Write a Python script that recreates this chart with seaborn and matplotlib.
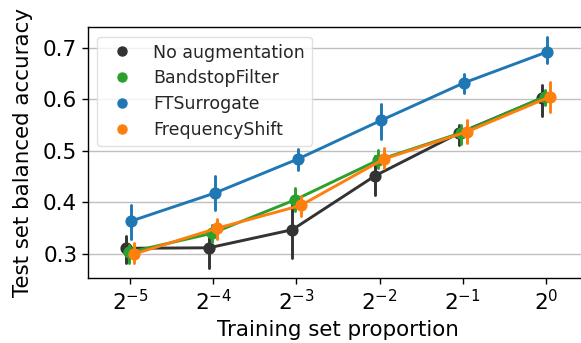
import numpy as np
import pandas as pd
import seaborn as sns
import matplotlib
matplotlib.use("Agg")
import matplotlib.pyplot as plt
from matplotlib.lines import Line2D

# ---- data ----
proportions = ["$2^{-5}$", "$2^{-4}$", "$2^{-3}$", "$2^{-2}$", "$2^{-1}$", "$2^{0}$"]
methods = ["No augmentation", "BandstopFilter", "FTSurrogate", "FrequencyShift"]

noaug_mid = [0.311, 0.312, 0.347, 0.452, 0.534, 0.602]
noaug_low = [0.283, 0.273, 0.292, 0.414, 0.512, 0.568]
noaug_high = [0.335, 0.340, 0.409, 0.490, 0.550, 0.628]

bandstop_mid = [0.303, 0.340, 0.405, 0.482, 0.535, 0.605]
bandstop_low = [0.283, 0.324, 0.383, 0.466, 0.513, 0.589]
bandstop_high = [0.318, 0.356, 0.427, 0.502, 0.550, 0.618]

ftsurr_mid = [0.364, 0.418, 0.484, 0.559, 0.632, 0.692]
ftsurr_low = [0.329, 0.385, 0.462, 0.523, 0.612, 0.670]
ftsurr_high = [0.395, 0.451, 0.503, 0.591, 0.649, 0.720]

fshift_mid = [0.300, 0.350, 0.394, 0.484, 0.537, 0.605]
fshift_low = [0.283, 0.329, 0.373, 0.466, 0.515, 0.576]
fshift_high = [0.321, 0.367, 0.413, 0.505, 0.560, 0.634]

colors = {"No augmentation": "#333333", "BandstopFilter": "#2ca02c",
          "FTSurrogate": "#1f77b4", "FrequencyShift": "#ff7f0e"}

series = {
    "No augmentation": (noaug_low, noaug_mid, noaug_high),
    "BandstopFilter": (bandstop_low, bandstop_mid, bandstop_high),
    "FTSurrogate": (ftsurr_low, ftsurr_mid, ftsurr_high),
    "FrequencyShift": (fshift_low, fshift_mid, fshift_high),
}

rows = []
for m in methods:
    lo, mi, hi = series[m]
    for i, p in enumerate(proportions):
        for v in (lo[i], mi[i], hi[i]):
            rows.append({"proportion": p, "method": m, "acc": v})
df = pd.DataFrame(rows)

sns.set_theme(style="ticks")
plt.rcParams["font.family"] = ["DejaVu Sans"]

fig = plt.figure(figsize=(5.81, 3.43), dpi=100)
ax = fig.add_axes([88.4 / 581, 1 - 277.7 / 343, (587.6 - 88.4) / 581, (277.7 - 27.3) / 343])

sns.pointplot(data=df, x="proportion", y="acc", hue="method",
              order=proportions, hue_order=methods, palette=colors,
              estimator="median", errorbar=("pi", 100), dodge=True,
              legend=False, ax=ax, linewidth=2.1, markersize=7.2,
              err_kws={"linewidth": 2.1})

ax.set_xlim(-0.5, 5.5)
ax.set_ylim(0.254, 0.7395)
ax.set_yticks([0.3, 0.4, 0.5, 0.6, 0.7])
ax.grid(axis="y", color="0.75", linewidth=1.0)
ax.set_axisbelow(True)
for s in ax.spines.values():
    s.set_visible(True)
    s.set_color("black")
    s.set_linewidth(1.0)

ax.tick_params(axis="both", labelsize=15.5, length=4.5, width=1, color="black", labelcolor="black")
ax.set_xlabel("Training set proportion", fontsize=15.4, color="black")
ax.set_ylabel("Test set balanced accuracy", fontsize=15.4, color="black", labelpad=7)

handles = [Line2D([], [], marker="o", linestyle="", color=colors[m], markersize=6.5) for m in methods]
leg = ax.legend(handles, methods, loc="upper left", bbox_to_anchor=(0.018, 0.963),
                borderaxespad=0, fontsize=12.5, frameon=True, handletextpad=0.8,
                labelspacing=0.45)
leg.get_frame().set_edgecolor("0.85")

fig.savefig("out.png", dpi=100)
